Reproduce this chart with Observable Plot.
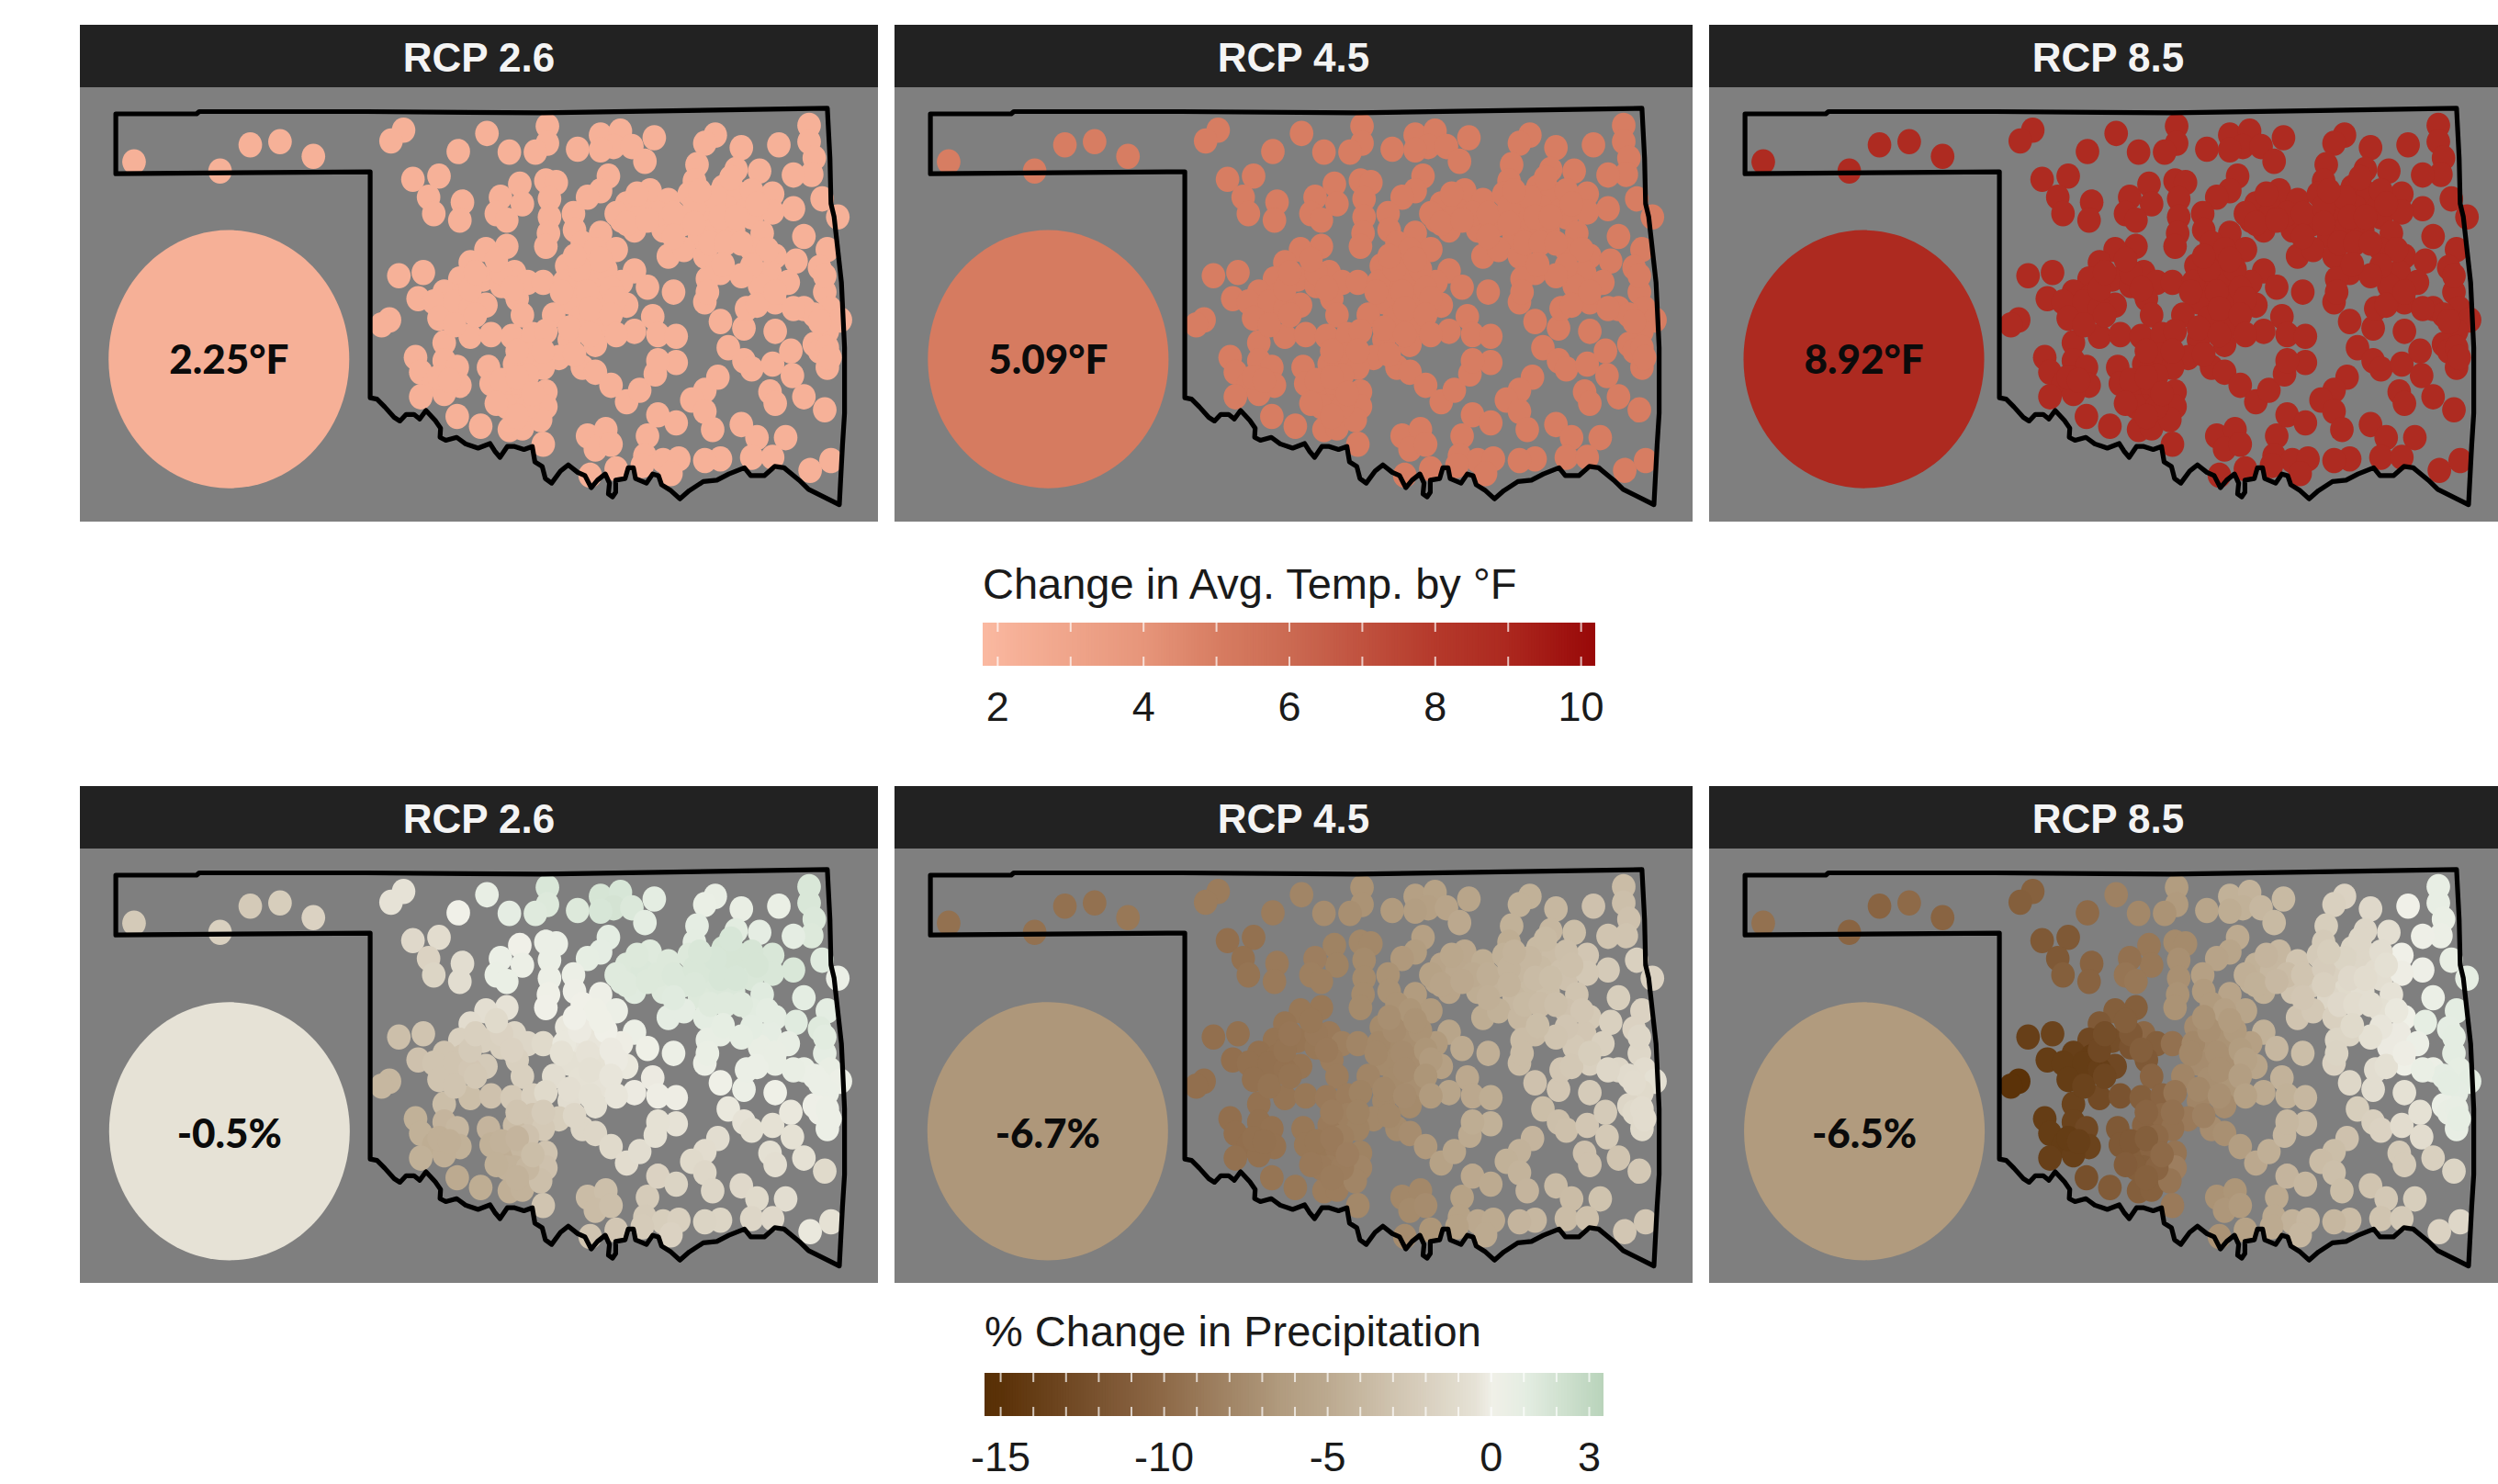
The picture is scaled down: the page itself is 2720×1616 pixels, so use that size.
<!DOCTYPE html>
<html>
<head>
<meta charset="utf-8">
<script src="https://cdn.jsdelivr.net/npm/d3@7"></script>
<script src="https://cdn.jsdelivr.net/npm/@observablehq/plot@0.6"></script>
<style>
html,body{margin:0;padding:0;background:#fff;width:2720px;height:1616px;overflow:hidden}
#page{position:relative;width:2720px;height:1616px;overflow:hidden;font-family:"Liberation Sans",Arial,sans-serif}
.strip{position:absolute;height:64px;padding-top:4px;background:#222;color:#f4f4f4;font-size:44px;font-weight:700;display:flex;align-items:center;justify-content:center}
.ltitle{position:absolute;font-size:47px;color:#1a1a1a;white-space:nowrap;line-height:1}
</style>
</head>
<body>
<div id="page"></div>
<script>
const scenarios = ["RCP 2.6","RCP 4.5","RCP 8.5"];
const tempMeans = [2.25,5.09,8.92];
const precipMeans = [-0.5,-6.7,-6.5];
const stationTemp = [2.2,5.0,8.85];
const tempCircleX = [297,306,308];
const precipCircleX = [298,305,309];
const tempCircleY = 1035;
const precipCircleY = 1068;

// Outline of the state, in map-grid units
const borderX = [80,235,240,560,900,1445,1450,1452,1458,1472,1478,1478,1474,1468,1462,1409,1391,1362,1344,1324,1298,1286,1256,1233,1207,1180,1162,1145,1127,1121,1110,1098,1077,1073,1063,1057,1039,1039,1033,1025,1027,1019,1004,992,980,966,948,933,916,904,898,884,879,863,845,831,817,807,798,775,751,734,713,702,703,693,675,663,652,637,625,614,596,581,568,568,80,80];
const borderY = [285,285,278,278,282,268,420,560,600,800,1000,1200,1300,1480,1475,1433,1405,1367,1363,1391,1391,1367,1386,1405,1409,1437,1462,1437,1419,1391,1386,1414,1400,1367,1367,1400,1405,1442,1456,1447,1414,1386,1405,1428,1391,1381,1358,1377,1414,1400,1363,1349,1302,1311,1302,1302,1335,1316,1293,1307,1294,1274,1283,1274,1246,1223,1192,1218,1204,1204,1224,1213,1181,1157,1153,462,468,285];

// Weather stations, block by block: map-grid position, then % change in precipitation per scenario
const stationX = [
115,280,338,395,459,
632,608,792,737,835,908,908,885,966,1010,1048,1035,1010,1070,1113,1095,
1230,1210,1280,1352,1410,1410,1420,1415,1380,1315,1270,1195,1190,
650,700,680,690,745,740,855,860,818,810,830,905,925,912,912,910,905,1025,1010,985,958,960,1010,975,
1105,1060,1050,1090,1075,1140,1180,1130,1170,1210,1245,1275,1250,1290,1230,1200,1265,1300,1340,1380,1340,1435,1465,
1320,1300,1400,1345,1445,1385,1430,1335,1140,1170,1210,1240,1215,1210,1240,1285,1290,1315,1370,1345,1440,1400,1450,1470,1445,1345,1420,
1255,1285,1300,1340,1375,1378,1430,1445,
1235,1210,1185,1210,1225,1335,1345,1400,1440,1280,1310,1365,1300,1340,1240,1210,1412,1452,
830,790,760,845,740,785,670,623,660,710,745,790,725,870,900,850,860,945,985,1040,1075,960,1000,1050,1010,950,920,970,1010,1100,1150,1060,1110,1075,1120,1155,
605,590,710,760,800,840,880,905,950,1000,655,710,735,665,690,740,710,665,795,800,830,860,845,880,930,900,870,905,905,845,735,780,835,860,895,900,
975,1000,1030,1060,1085,1115,1155,1120,
985,1020,1000,1030,1100,1120,1155,1095,1130,1160,1040,1145,990,1090,
940,970,1020,1000,1030,985,935,1040,990,1030,950,990,1040,960,1010,
1080,1120,1040,1060,1100,1150,1190,1230,1260,1300,1310,1240,1270,1190,1220,1250,1150,1280,1200,
690,730,760,700,760,820,820,770,810,840,730,770,
830,870,820,850,880,850,810,900,850,960,700,720,
1445,1450,1420,1380,1430,1330,1300,1280,1440,1215,1310,1345,1245];
const stationY = [
432,460,380,370,415,
335,368,345,400,402,322,375,402,393,350,338,385,395,385,358,430,
350,375,388,380,320,370,420,470,472,460,455,440,490,
485,475,540,590,555,610,500,560,540,590,610,490,495,545,600,650,690,475,520,540,590,640,650,680,
520,560,610,580,640,550,530,640,620,590,510,530,570,580,640,660,640,600,530,575,585,545,600,
650,700,660,720,700,735,755,770,720,700,720,770,790,860,920,940,880,810,800,860,830,880,880,915,950,950,990,
1000,1040,1065,1050,1010,1085,1010,1060,
1090,1130,1160,1195,1250,1135,1170,1150,1190,1235,1275,1275,1335,1335,1340,1345,1375,1345,
690,700,740,770,790,790,770,780,850,830,840,870,905,800,800,850,900,750,730,700,765,800,790,800,850,860,900,910,930,815,830,870,905,950,960,965,
915,930,985,965,960,965,960,950,975,990,1030,1040,1060,1075,1110,1115,1140,1150,1060,1110,1140,1120,1050,1020,1030,1060,1085,1135,1180,1180,1210,1240,1250,1245,1220,1295,
1060,1075,1115,1165,1130,1080,1045,1040,
1270,1250,1310,1295,1270,1205,1230,1330,1345,1340,1370,1385,1390,1360,
800,760,760,700,820,830,830,850,880,900,940,960,960,720,730,
530,590,590,620,610,590,570,540,480,520,560,600,600,620,680,680,660,680,520,
860,860,880,910,820,810,770,770,730,820,930,900,
1180,1180,1100,1090,1140,1210,1170,1010,1010,1020,1090,1100,
1000,1030,900,880,920,700,750,780,780,830,870,830,745];
const precipRcp26 = [
-2.5,-2,-2.5,-2.2,-1.8,
-.5,-.5,.7,0,.9,1.6,1.4,1.3,1.4,1.8,1.7,1.9,1.7,1.5,1,1,
.6,.5,.6,.5,1.6,1.6,1.5,1.4,.9,.9,1.1,.9,1,
-1.3,-1,-1.8,-1.6,-.9,-.9,0,.3,.4,.5,.5,.4,.4,.4,.3,.1,0,1,.9,.8,.3,.2,.2,0,
1.3,1.4,1.3,1.5,1.2,1.4,1.4,1.3,1.5,1.6,1.8,1.8,1.8,1.8,1.5,1.4,1.5,1.6,1.6,1.6,1.6,1.2,.4,
1.2,1.1,1,1,1,1.2,1.3,.9,.9,.9,1,.7,.7,.3,.1,.3,.4,.6,.7,.6,.9,.5,.6,.3,.4,.1,.2,
-.3,-.5,-.7,-.6,-.3,-.6,.2,.3,
-.9,-1,-1.2,-1.4,-1.5,-.7,-.8,-.6,-1.2,-1.3,-1.2,-.9,-1.5,-1.3,-1.6,-1.7,-.3,-.6,
-.5,-.8,-1,-1.5,-2,-2,-3,-3.4,-3.2,-3,-3,-2.5,-3,-1.5,-1.2,-2,-2,-.3,-.2,.3,.3,-.4,-.4,-.1,-.6,-.7,-.9,-.6,-.5,.1,.3,-.3,-.2,-.2,-.1,-.1,
-4,-4,-3.5,-3.5,-3.2,-2.6,-2,-1.2,-.9,-.7,-4.5,-4.2,-4,-4.5,-4.8,-4.5,-4.6,-4.5,-4.2,-4.5,-4.7,-4,-3.6,-3,-2.2,-2.6,-3.2,-3,-3.2,-4.4,-5,-4.8,-4.6,-4.4,-3.4,-3,
-1.5,-1.5,-1.2,-1,-.9,-.6,-.5,-.6,
-3.6,-3.4,-3.6,-3.4,-2.4,-1.8,-1.7,-2.5,-2.2,-2,-2.8,-1.8,-3,-2.4,
-.3,-.2,0,.1,-.2,-.5,-.6,-.2,-.7,-.4,-.8,-.7,-.4,0,.1,
1.4,1.4,1.3,1.3,1.4,1.5,1.6,1.7,1.7,1.8,1.8,1.7,1.7,1.5,1.3,1.3,1.2,1.3,1.6,
-3,-3,-2.8,-3,-2.5,-2,-1.8,-2,-1.2,-1.8,-3,-2.7,
-4.4,-4,-4.4,-4.2,-3.5,-4.4,-4.5,-2.4,-3,-1.5,-4.6,-4.6,
.3,.3,.4,.6,.4,1,1,.8,1.1,.5,.4,.6,.8];
const precipRcp45 = [
-9.5,-9.5,-9.5,-9.5,-9,
-8.7,-8.7,-8,-8.7,-7.5,-7,-7,-7.3,-6.5,-6,-5.8,-6,-6.2,-5.6,-5.5,-5.2,
-4.5,-4.5,-4,-3.2,-3.6,-3.4,-3.2,-3,-3,-3.5,-4,-4.5,-4.8,
-9.6,-9.5,-9.5,-9.3,-8.8,-8.8,-8.2,-8.2,-8.5,-8.4,-8.4,-7.8,-7.8,-7.6,-7.6,-7.6,-7.6,-6,-6.3,-6.6,-7,-7,-6.4,-7,
-5.2,-5.6,-5.6,-5.2,-5.6,-4.8,-4.5,-4.8,-4.4,-4,-3.8,-3.6,-3.8,-3.3,-3.8,-4,-3.5,-3.2,-2.8,-2.5,-2.7,-2,-1.8,
-3,-3.2,-2.2,-2.6,-1.8,-2,-1.8,-2.8,-4.8,-4.5,-4,-3.6,-3.6,-3.6,-3.2,-2.8,-2.8,-2.6,-2,-2,-1.4,-1.5,-1,-.7,-1.2,-2.4,-1.5,
-3.5,-3.4,-3.3,-2.8,-2.5,-2.6,-1.2,-1.2,
-4.2,-4.4,-4.5,-4.3,-4.2,-3.2,-3.2,-3,-2.7,-3.7,-3.6,-3.1,-3.6,-3.3,-4,-4.2,-2.8,-2.8,
-9,-9,-9.2,-8.8,-9.3,-9.2,-9.5,-9.6,-9.6,-9.5,-9.4,-9.2,-9.2,-8.4,-8,-8.6,-8.6,-7.6,-7.4,-6.5,-5.5,-7.6,-7.3,-6.5,-7.4,-7.6,-8,-7.6,-7.3,-5,-4.6,-6,-5.2,-5.5,-5.2,-4.8,
-9.6,-9.6,-9.4,-9.2,-9,-8.8,-8.6,-8.2,-7.8,-7.6,-9.6,-9.5,-9.4,-9.6,-9.6,-9.4,-9.5,-9.5,-9,-9,-9,-8.8,-8.8,-8.4,-7.8,-8.2,-8.4,-8.2,-8,-8.7,-9.2,-9,-8.6,-8.6,-8,-7.8,
-7.6,-7.4,-6.6,-5.8,-5.4,-5,-4.5,-4.8,
-7.8,-7.8,-7.6,-7.5,-5.8,-5.2,-5,-5.8,-5.2,-5,-6.8,-5,-7.5,-5.8,
-7.8,-7.5,-7,-6.8,-6.8,-7.5,-7.8,-6.5,-7.5,-6.8,-7.8,-7.5,-6.5,-7.3,-7,
-5.3,-5,-5.8,-5.6,-5.2,-4.7,-4.3,-4,-3.8,-3.4,-3.3,-3.7,-3.5,-4.3,-3.8,-3.6,-4.6,-3.4,-4.3,
-9.5,-9.5,-9.4,-9.5,-9.3,-9,-8.9,-9.1,-9,-8.8,-9.3,-9.3,
-8.8,-8.6,-9,-8.8,-8.5,-8.7,-8.9,-8.2,-8.6,-7.8,-9.5,-9.5,
-1,-1,-1.1,-1.4,-1,-2.8,-2.9,-3,-1.5,-3.6,-2.7,-2.2,-3.5];
const precipRcp85 = [
-9.5,-10.5,-10.5,-10,-10.5,
-10.8,-11,-8.3,-10,-7.8,-6.3,-6.5,-7,-5.5,-4.5,-4.3,-4.5,-4.8,-4,-3.8,-3.8,
-1.8,-2,-1.3,0,.7,.7,.5,.3,.2,-.8,-1.5,-2.2,-2.5,
-11.5,-11.5,-11.5,-11,-10.6,-10.6,-9,-9,-9.5,-9.2,-9,-7.6,-7.6,-7.2,-7.2,-7,-7,-5,-5.5,-5.7,-6,-6.5,-5.6,-6.5,
-4,-4.5,-4.5,-4,-4.5,-3,-2.5,-3,-2.5,-2,-1.6,-1.5,-1.5,-1,-1.2,-1.5,-.8,-.8,0,.2,-.1,.6,.8,
-.5,-.7,.4,.1,1,.8,.9,-.2,-3,-2.7,-2,-1.6,-1.6,-1.8,-1.4,-.9,-.9,-.2,.3,.1,1,.3,.8,1,.9,-.6,.4,
-2.2,-2,-1.8,-1,-.6,-1,.6,.7,
-3.2,-3.5,-3.6,-3.4,-3.5,-2.4,-2.4,-2,-1.6,-3,-2.7,-2.2,-3,-2.5,-3.6,-4,-1.8,-1.4,
-11,-11,-11.5,-10.2,-13,-12.5,-13.5,-13.8,-14,-13.8,-14,-13,-13.5,-11,-9.5,-11.5,-10.5,-7.5,-7,-5.5,-4.5,-7.3,-7,-6,-7.2,-7.5,-8,-7.3,-6.8,-4,-3.5,-5.5,-4.4,-5,-4.5,-4,
-15,-15,-13.5,-12.8,-12,-11,-10.5,-9.2,-8,-7.5,-14,-13.5,-13,-14,-14,-13.5,-13.8,-13.8,-11.5,-11.5,-11,-10.5,-10.5,-10,-8.8,-9.5,-10,-9.3,-8.5,-11,-12.3,-11.3,-11,-10.8,-9.2,-8.8,
-7.4,-7.2,-6.2,-5.2,-4.6,-4,-3.7,-4,
-7,-6.8,-6.7,-6.5,-5,-4.2,-4,-5,-4.4,-4,-5.8,-4,-7,-5,
-7.8,-7.2,-6.5,-6,-6.3,-7.2,-7.8,-5.8,-7.2,-6.2,-7.8,-7.2,-5.8,-7,-6.4,
-4.2,-3.6,-4.6,-4.5,-3.9,-3,-2.3,-1.7,-1.5,-.9,-.7,-1.3,-1,-2,-1.3,-1,-2.8,-.8,-2.2,
-14,-14,-13.8,-14,-13,-12,-11.5,-12.5,-11,-11,-13.5,-13.2,
-11,-10.5,-11.5,-11,-10,-10.8,-11.2,-9.5,-10.5,-8.3,-14,-13.8,
.7,.8,.9,.5,1,-.3,-.4,-.6,1,-1.7,-.7,-.1,-1.2];

// Colour scales
const tempStops = [1.8,2.25,4,5.09,6,8,8.92,10.2];
const tempColors = ["#fab9a1","#f6b097","#e6957a","#d67b60","#cb6a52","#b5392b","#ad2a20","#980808"];
const precipStops = [-15.5,-15,-12,-10,-6.7,-6.5,-5,-3,-0.5,0,1,3.45];
const precipColors = ["#583006","#5b3208","#7a5330","#8e6a48","#ae977a","#b19b7e","#bcaa90","#d0c4b0","#e6e2d6","#f0f0e8","#e4ede2","#b8d3ba"];
const tempTicks = [2,4,6,8,10];
const tempMinor = [2,3,4,5,6,7,8,9,10];
const precipTicks = [-15,-10,-5,0,3];
const precipMinor = [-15,-14,-13,-12,-11,-10,-9,-8,-7,-6,-5,-4,-3,-2,-1,0,1,2,3];

const page = document.getElementById("page");
const panelLeft = [87,974,1861];
const panelWidth = 869, stripH = 68, bodyH = 473;
const fontMean = "Lato, 'Noto Sans', sans-serif";

// Slightly tall ellipse: the source map is stretched vertically
const tallDot = {
  draw(ctx, size) {
    const r = Math.sqrt(size / Math.PI), a = r * 0.967, b = r * 1.037, k = 0.5523;
    ctx.moveTo(a, 0);
    ctx.bezierCurveTo(a, k * b, k * a, b, 0, b);
    ctx.bezierCurveTo(-k * a, b, -a, k * b, -a, 0);
    ctx.bezierCurveTo(-a, -k * b, -k * a, -b, 0, -b);
    ctx.bezierCurveTo(k * a, -b, a, -k * b, a, 0);
    ctx.closePath();
  }
};

const border = borderX.map((x, i) => ({x, y: borderY[i]}));

function panel({top, col, values, mean, cx, cy, labelDy, label, colorScale}) {
  const strip = document.createElement("div");
  strip.className = "strip";
  strip.style.left = panelLeft[col] + "px";
  strip.style.top = top + "px";
  strip.style.width = panelWidth + "px";
  strip.textContent = scenarios[col];
  page.appendChild(strip);

  const stations = stationX.map((x, i) => ({x, y: stationY[i], v: values(i)}));
  const svg = Plot.plot({
    width: panelWidth, height: bodyH, margin: 0,
    x: {domain: [12, 1543], axis: null},
    y: {domain: [1533, 205], axis: null},
    color: colorScale,
    style: {background: "#7f7f7f", position: "absolute", left: panelLeft[col] + "px", top: (top + stripH) + "px", maxWidth: "none", overflow: "visible"},
    marks: [
      Plot.dot(stations, {x: "x", y: "y", fill: "v", r: 13.3, symbol: tallDot}),
      Plot.dot([{x: cx, y: cy, v: mean}], {x: "x", y: "y", fill: "v", r: 135.5, symbol: tallDot}),
      Plot.text([{x: cx, y: cy + labelDy, t: label}], {x: "x", y: "y", text: "t", fontSize: 44, fontWeight: 900, fontFamily: fontMean, fill: "#0b0b0b"}),
      Plot.line(border, {x: "x", y: "y", stroke: "#000", strokeWidth: 5.2, strokeLinejoin: "round", curve: "linear"})
    ]
  });
  page.appendChild(svg);
}

const tempScale = {type: "linear", domain: tempStops, range: tempColors};
const precipScale = {type: "linear", domain: precipStops, range: precipColors};
const precipSeries = [precipRcp26, precipRcp45, precipRcp85];

scenarios.forEach((s, col) => {
  panel({top: 27, col, values: () => stationTemp[col], mean: tempMeans[col], cx: tempCircleX[col], cy: tempCircleY, labelDy: 5,
         label: tempMeans[col].toFixed(2) + "°F", colorScale: tempScale});
  panel({top: 856, col, values: i => precipSeries[col][i], mean: precipMeans[col], cx: precipCircleX[col], cy: precipCircleY, labelDy: 12,
         label: precipMeans[col].toFixed(1) + "%", colorScale: precipScale});
});

function legend({title, titleLeft, titleTop, top, left, width, marginLeft, marginRight, domain, ticks, minor, scale, marginBottom}) {
  const t = document.createElement("div");
  t.className = "ltitle";
  t.style.left = titleLeft + "px";
  t.style.top = titleTop + "px";
  t.textContent = title;
  page.appendChild(t);

  const step = (domain[1] - domain[0]) / 220;
  const cells = d3.range(domain[0], domain[1], step);
  const svg = Plot.plot({
    width, height: 47 + marginBottom, marginTop: 0, marginBottom, marginLeft, marginRight,
    x: {domain, clamp: true, axis: null},
    y: {domain: [47, 0], axis: null},
    color: scale,
    style: {position: "absolute", left: left + "px", top: top + "px", maxWidth: "none", background: "transparent", overflow: "visible"},
    marks: [
      Plot.rect(cells, {x1: d => d, x2: d => d + step * 1.6, fill: d => d}),
      Plot.ruleX(minor, {x: d => d, y1: 0, y2: 10, stroke: "#fff", strokeOpacity: 0.7, strokeWidth: 2}),
      Plot.ruleX(minor, {x: d => d, y1: 37, y2: 47, stroke: "#fff", strokeOpacity: 0.7, strokeWidth: 2}),
      Plot.axisX({ticks, tickSize: 0, tickPadding: 28, fontSize: 45, tickFormat: d => String(d), label: null, fill: "#1a1a1a", fontFamily: "'Liberation Sans', Arial, sans-serif"})
    ]
  });
  page.appendChild(svg);
}

legend({title: "Change in Avg. Temp. by °F", titleLeft: 1070, titleTop: 612, top: 678, left: 1000, width: 800,
        marginLeft: 70, marginRight: 63, domain: [1.8, 10.2], ticks: tempTicks, minor: tempMinor, scale: tempScale, marginBottom: 100});
legend({title: "% Change in Precipitation", titleLeft: 1072, titleTop: 1426, top: 1495, left: 1000, width: 800,
        marginLeft: 72, marginRight: 54, domain: [-15.48, 3.45], ticks: precipTicks, minor: precipMinor, scale: precipScale, marginBottom: 74});
</script>
</body>
</html>
